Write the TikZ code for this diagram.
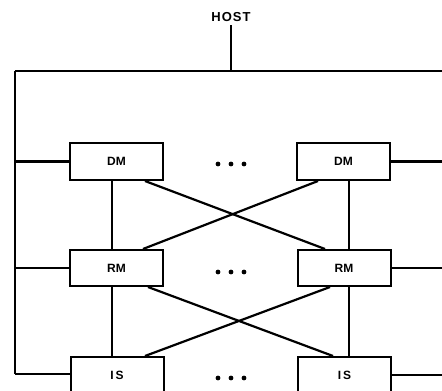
\documentclass[tikz,border=0pt]{standalone}
\usepackage{fontspec}
\setmainfont{Liberation Sans}
\usetikzlibrary{calc}
\begin{document}
\begin{tikzpicture}[x=1pt,y=-1pt,
  box/.style={draw,line width=2pt,rectangle,minimum width=93pt,minimum height=37pt,inner sep=0pt,
    font=\fontsize{12}{12}\selectfont\bfseries},
  wire/.style={line width=2.2pt},
  dotf/.style={fill=black}]
\useasboundingbox (0,0) rectangle (442,391);
\clip (0,0) rectangle (442,391);
% nodes
\node[font=\fontsize{13}{13}\selectfont\bfseries] (host) at (231,17) {H\kern1ptO\kern1ptS\kern1ptT};
\coordinate (hostbus) at (231,71);
\coordinate (busL) at (15,71);
\coordinate (busR) at (442,71);
\coordinate (leftEnd) at (15,374);
\coordinate (rightEdge) at (442,0);
\node[box] (dmL) at (116.5,161.5) {DM};
\node[box] (dmR) at (343.5,161.5) {DM};
\node[box,minimum height=36pt] (rmL) at (116.5,268) {RM};
\node[box,minimum height=36pt] (rmR) at (344,268) {RM};
\node[box,minimum height=36pt] (isL) at (117,375) {I\,S};
\node[box,minimum height=36pt] (isR) at (344.5,375) {I\,S};
% dots
\foreach \y in {164,272,378}{
  \foreach \x in {218,231,244}{
    \fill[dotf] (\x,\y) circle (2.4pt);
  }
}
% bus
\draw[wire] (host.south) -- (hostbus);
\draw[wire] (busL) -- (busR);
\draw[wire] (busL) -- (leftEnd);
% left connectors
\draw[wire] (busL |- dmL.west) -- (dmL.west);
\draw[wire] (busL |- rmL.west) -- (rmL.west);
\draw[wire] (leftEnd) -- (isL.west |- leftEnd);
% right connectors
\draw[wire] (dmR.east) -- (rightEdge |- dmR.east);
\draw[wire] (rmR.east) -- (rightEdge |- rmR.east);
\draw[wire] (isR.east) -- (rightEdge |- isR.east);
% verticals
\draw[wire] ($(dmL.south)+(-4.5,0)$) -- ($(rmL.north)+(-4.5,0)$);
\draw[wire] ($(dmR.south)+(5.5,0)$) -- ($(rmR.north)+(5,0)$);
\draw[wire] ($(rmL.south)+(-4.5,0)$) -- ($(isL.north)+(-5,0)$);
\draw[wire] ($(rmR.south)+(5,0)$) -- ($(isR.north)+(4.5,0)$);
% crosses
\draw[wire] ($(dmL.south)+(28.5,0)$) -- ($(rmR.north)+(-19,0)$);
\draw[wire] ($(dmR.south)+(-25.5,0)$) -- ($(rmL.north)+(26.5,0)$);
\draw[wire] ($(rmL.south)+(31.5,0)$) -- ($(isR.north)+(-11.5,0)$);
\draw[wire] ($(rmR.south)+(-14,0)$) -- ($(isL.north)+(28,0)$);
\end{tikzpicture}
\end{document}
